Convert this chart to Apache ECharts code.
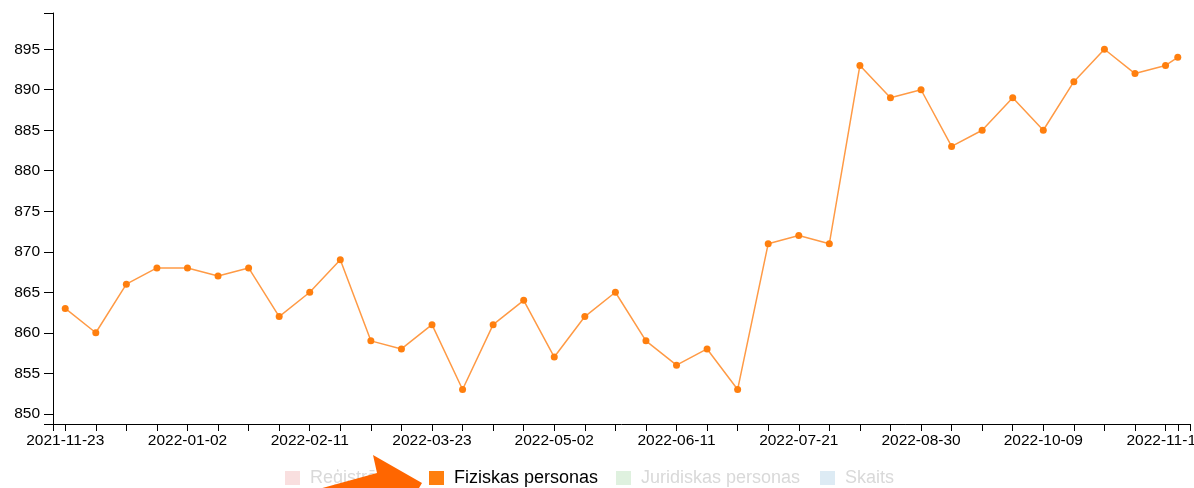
<!DOCTYPE html>
<html lang="lv">
<head>
    <meta charset="UTF-8">
    <title>Fiziskas personas</title>
    <script src="https://cdn.jsdelivr.net/npm/echarts@6.0.0/dist/echarts.min.js"></script>
    <style type="text/css">
        html, body { margin: 0; padding: 0; background: #fff; }
        #chart { width: 1194px; height: 488px; }
    </style>
</head>
<body>
    <div id="chart"></div>
    <script>
        // datumi (ik pa 10 dienām, pēdējais punkts 4 dienas vēlāk)
        var dates = [
            '2021-11-23', '2021-12-03', '2021-12-13', '2021-12-23', '2022-01-02',
            '2022-01-12', '2022-01-22', '2022-02-01', '2022-02-11', '2022-02-21',
            '2022-03-03', '2022-03-13', '2022-03-23', '2022-04-02', '2022-04-12',
            '2022-04-22', '2022-05-02', '2022-05-12', '2022-05-22', '2022-06-01',
            '2022-06-11', '2022-06-21', '2022-07-01', '2022-07-11', '2022-07-21',
            '2022-07-31', '2022-08-10', '2022-08-20', '2022-08-30', '2022-09-09',
            '2022-09-19', '2022-09-29', '2022-10-09', '2022-10-19', '2022-10-29',
            '2022-11-08', '2022-11-18', '2022-11-22'
        ];
        var fiziskas = [
            863, 860, 866, 868, 868, 867, 868, 862, 865, 869,
            859, 858, 861, 853, 861, 864, 857, 862, 865, 859,
            856, 858, 853, 871, 872, 871, 893, 889, 890, 883,
            885, 889, 885, 891, 895, 892, 893, 894
        ];
        var xLabelDates = [
            '2021-11-23', '2022-01-02', '2022-02-11', '2022-03-23', '2022-05-02',
            '2022-06-11', '2022-07-21', '2022-08-30', '2022-10-09', '2022-11-18'
        ];
        var yTicks = [850, 855, 860, 865, 870, 875, 880, 885, 890, 895];
        var legendNames = ['Reģistrēti', 'Fiziskas personas', 'Juridiskas personas', 'Skaits'];
        var legendColors = ['#d62728', '#ff7f0e', '#2ca02c', '#1f77b4'];
        var legendFaded = ['#f9dfdf', null, '#dff1df', '#ddebf4'];
        var legendLeft = [280, 424, 611, 815];

        var DAY = 86400000;
        var t0 = Date.parse(dates[0]);
        function dayOf(s) { return (Date.parse(s) - t0) / DAY; }
        function dateOf(v) { return new Date(t0 + v * DAY).toISOString().slice(0, 10); }

        var xDays = dates.map(dayOf);
        // d3 stila domēns: 4 dienas pirms un pēc, y = [min*0.995, max*1.005]
        var xMin = xDays[0] - 4, xMax = xDays[xDays.length - 1] + 4;
        var yMin = Math.min.apply(null, fiziskas) * 0.995;
        var yMax = Math.max.apply(null, fiziskas) * 1.005;

        var chart = echarts.init(document.getElementById('chart'));
        var font = '"Liberation Sans", Arial, Helvetica, sans-serif';

        var series = legendNames.map(function (name, i) {
            return {
                name: name,
                type: 'line',
                color: legendColors[i],
                data: i === 1 ? xDays.map(function (d, k) { return [d, fiziskas[k]]; }) : [],
                symbol: 'circle',
                symbolSize: 7,
                lineStyle: { width: 1.5, color: '#ff9a45' },
                itemStyle: { color: legendColors[i] },
                animation: false
            };
        });

        // katrs leģendas ieraksts atsevišķi, lai pozīcijas sakristu
        var legends = legendNames.map(function (name, i) {
            var faded = legendFaded[i];
            return {
                left: legendLeft[i],
                top: 464,
                icon: 'rect',
                itemWidth: 15,
                itemHeight: 14,
                selectedMode: false,
                textStyle: {
                    fontFamily: font, fontSize: 18, padding: [0, 0, 0, 5],
                    color: faded ? '#d9d9d9' : '#000'
                },
                data: [{ name: name, itemStyle: { color: faded || legendColors[i] } }]
            };
        });

        var option = {
            animation: false,
            grid: { left: 53, right: 4, top: 13, bottom: 64, outerBoundsMode: 'none' },
            xAxis: {
                type: 'value',
                min: xMin,
                max: xMax,
                axisLine: { show: true, onZero: false, lineStyle: { color: '#000', width: 1 } },
                axisTick: {
                    show: true,
                    length: 7,
                    lineStyle: { color: '#000' },
                    customValues: [xMin].concat(xDays, [xMax])
                },
                axisLabel: {
                    customValues: xLabelDates.map(dayOf),
                    formatter: function (v) { return dateOf(v); },
                    color: '#000',
                    fontFamily: font,
                    fontSize: 15.5,
                    margin: 9
                },
                splitLine: { show: false }
            },
            yAxis: {
                type: 'value',
                min: yMin,
                max: yMax,
                axisLine: { show: true, onZero: false, lineStyle: { color: '#000', width: 1 } },
                axisTick: {
                    show: true,
                    length: 9,
                    lineStyle: { color: '#000' },
                    customValues: [yMin].concat(yTicks, [yMax])
                },
                axisLabel: {
                    customValues: yTicks,
                    color: '#000',
                    fontFamily: font,
                    fontSize: 15.5,
                    margin: 13
                },
                splitLine: { show: false }
            },
            legend: legends,
            series: series,
            graphic: [{
                // oranžā bulta uz leģendu
                type: 'polygon',
                z: 100,
                shape: {
                    points: [[184, 526], [377, 473], [373, 455], [422, 483],
                             [394, 530], [388, 513], [195, 566]]
                },
                style: { fill: '#ff6600' }
            }]
        };
        chart.setOption(option);
    </script>
</body>
</html>
